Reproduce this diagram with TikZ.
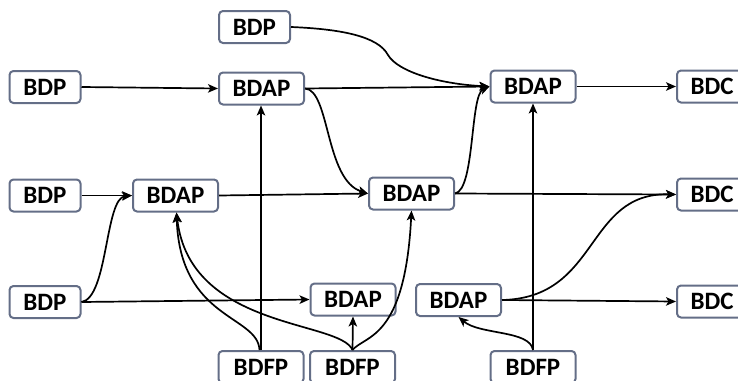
\documentclass[tikz,border=0pt]{standalone}
\usepackage{fontspec}
\setmainfont{Carlito}
\usetikzlibrary{arrows.meta}
\definecolor{boxline}{RGB}{100,110,135}
\tikzset{
  box/.style={draw=boxline, line width=2pt, rounded corners=4pt, fill=white,
    minimum height=32pt, inner sep=0pt, font=\fontsize{25}{25}\selectfont\bfseries},
  pbox/.style={box, minimum width=71pt},
  abox/.style={box, minimum width=85pt},
  cbox/.style={box, minimum width=70pt},
  conn/.style={line width=1.7pt, -{Stealth[length=10pt,width=8.5pt,inset=2.5pt]}},
}
\begin{document}
\begin{tikzpicture}[x=1pt,y=-1pt]
\useasboundingbox (0,0) rectangle (738,380);
% nodes
\node[pbox] (ptop) at (254.5,27) {BDP};
\node[pbox] (p1) at (45,87) {BDP};
\node[abox] (a1) at (261.5,88.5) {BDAP};
\node[abox] (a2) at (533,86.5) {BDAP};
\node[cbox] (c1) at (712,86.5) {BDC};
\node[pbox] (p2) at (45,195.5) {BDP};
\node[abox] (a3) at (175.5,195.5) {BDAP};
\node[abox] (a4) at (411.5,193.5) {BDAP};
\node[cbox] (c2) at (712,194.5) {BDC};
\node[pbox] (p3) at (45,302) {BDP};
\node[abox] (a5) at (353,299.5) {BDAP};
\node[abox] (a6) at (458.5,300) {BDAP};
\node[cbox] (c3) at (712,301.5) {BDC};
\node[abox] (f1) at (261,367) {BDFP};
\node[abox] (f2) at (352.5,367) {BDFP};
\node[abox] (f3) at (533,367) {BDFP};
% connectors
\draw[conn] (p1.east) -- (a1.west);
\draw[conn] (a1.east) -- (a2.west);
\draw[conn] (ptop.east) .. controls (340,29) and (378,36) .. (388,55)
  .. controls (398,72) and (440,84) .. (a2.west);
\draw[conn] (a1.east) .. controls (330,90) and (325,180) .. (a4.west);
\draw[conn] (a4.east) .. controls (475,190) and (470,95) .. (a2.west);
\draw[conn] (a4.east) -- (c2.west);
\draw[conn] (a2.east) -- (c1.west);
\draw[conn] (p2.east) -- (a3.west);
\draw[conn] (a3.east) -- (a4.west);
\draw[conn] (p3.east) .. controls (108,298) and (105,198) .. (a3.west);
\draw[conn] (p3.east) -- (a5.west);
\draw[conn] (f1.north) -- (f1.north |- a1.south);
\draw[conn] ([xshift=-1.5pt]f1.north) .. controls (258,315) and (180,320) .. ([xshift=1pt]a3.south);
\draw[conn] (f2.north) .. controls (340,320) and (190,330) .. ([xshift=1pt]a3.south);
\draw[conn] (f2.north) -- (a5.south);
\draw[conn] (f2.north) .. controls (365,335) and (405,340) .. (a4.south);
\draw[conn] (f3.north) -- (a2.south);
\draw[conn] (f3.north) .. controls (530,330) and (480,335) .. (a6.south);
\draw[conn] (a6.east) .. controls (600,298) and (585,192) .. (c2.west);
\draw[conn] (a6.east) -- (c3.west);
\end{tikzpicture}
\end{document}
